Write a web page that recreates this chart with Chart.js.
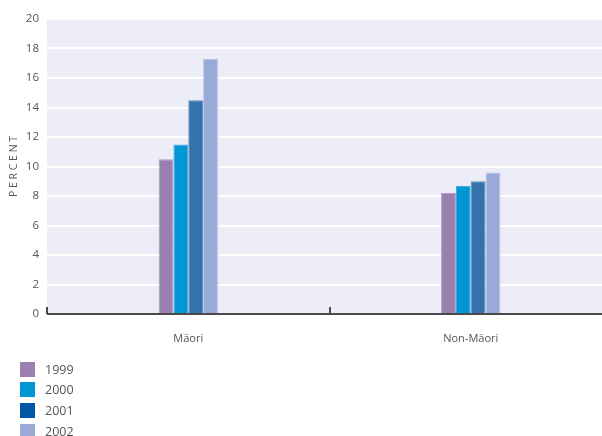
<!DOCTYPE html>
<html>
<head>
<meta charset="utf-8">
<script src="https://cdn.jsdelivr.net/npm/chart.js@4/dist/chart.umd.min.js"></script>
<style>
  html, body { margin: 0; padding: 0; background: #ffffff; overflow: hidden; }
  #wrap { position: relative; width: 612px; height: 436px; }
</style>
</head>
<body>
<div id="wrap"><canvas id="c"></canvas></div>
<script>
// Share of population (percent) by group and year
const categories = ['Māori', 'Non-Māori'];
const years = ['1999', '2000', '2001', '2002'];
const values1999 = [10.5, 8.2];
const values2000 = [11.5, 8.7];
const values2001 = [14.5, 9.0];
const values2002 = [17.3, 9.6];
const yTicks = [0, 2, 4, 6, 8, 10, 12, 14, 16, 18, 20];

const barColors = ['#9a80b0', '#0096d6', '#3473aa', '#99aad8'];
const barEdges = ['#b3a0c6', '#35abe0', '#5a8fc0', '#b4c2e4'];
const keyColors = ['#9a80b0', '#0096d6', '#0057a5', '#99aad8'];
const seriesValues = [values1999, values2000, values2001, values2002];

const FONT = "'Open Sans', 'DejaVu Sans', sans-serif";

// Lavender plot background
const plotBackground = {
  id: 'plotBackground',
  beforeDraw(chart) {
    const { ctx, chartArea: a } = chart;
    ctx.save();
    ctx.fillStyle = '#ededf7';
    ctx.fillRect(a.left, a.top, a.right - a.left, a.bottom - a.top);
    ctx.restore();
  }
};

// Baseline with small upward ticks at category boundaries
const baseAxis = {
  id: 'baseAxis',
  afterDatasetsDraw(chart) {
    const { ctx, chartArea: a, scales } = chart;
    const x = scales.x;
    const y0 = scales.y.getPixelForValue(0);
    const step = x.getPixelForValue(1) - x.getPixelForValue(0);
    ctx.save();
    ctx.strokeStyle = '#4a4a4a';
    ctx.lineWidth = 2;
    ctx.beginPath();
    ctx.moveTo(a.left, y0);
    ctx.lineTo(a.right, y0);
    ctx.stroke();
    for (let i = 0; i < categories.length; i++) {
      const bx = Math.round(x.getPixelForValue(i) - step / 2);
      ctx.beginPath();
      ctx.moveTo(bx, y0);
      ctx.lineTo(bx, y0 - 7);
      ctx.stroke();
    }
    ctx.restore();
  }
};

// Vertical key in the lower left corner
const yearKey = {
  id: 'yearKey',
  afterDraw(chart) {
    const { ctx } = chart;
    ctx.save();
    ctx.font = '12.5px ' + FONT;
    ctx.textBaseline = 'middle';
    ctx.textAlign = 'left';
    years.forEach((yr, i) => {
      const cy = 369 + i * 20.7;
      ctx.fillStyle = keyColors[i];
      ctx.fillRect(20, Math.round(cy - 7.5), 15, 15);
      ctx.fillStyle = '#555555';
      ctx.fillText(yr, 45, cy + 1);
    });
    ctx.restore();
  }
};

new Chart(document.getElementById('c'), {
  type: 'bar',
  data: {
    labels: categories,
    datasets: years.map((yr, i) => ({
      label: yr,
      data: seriesValues[i],
      backgroundColor: barColors[i],
      borderColor: barEdges[i],
      borderWidth: 1,
      barPercentage: 1,
      categoryPercentage: 0.21
    }))
  },
  options: {
    responsive: true,
    maintainAspectRatio: false,
    animation: false,
    devicePixelRatio: 1,
    layout: { padding: { top: 19, right: 0, bottom: 0, left: 0 } },
    plugins: {
      legend: { display: false },
      tooltip: { enabled: false }
    },
    scales: {
      x: {
        offset: true,
        grid: { display: false, drawTicks: false },
        border: { display: false },
        ticks: {
          color: '#555555',
          font: { family: FONT, size: 11 },
          padding: 18
        },
        afterFit(scale) { scale.height = 122; }
      },
      y: {
        min: 0,
        max: 20,
        afterBuildTicks(scale) { scale.ticks = yTicks.map(v => ({ value: v })); },
        grid: { color: '#ffffff', lineWidth: 2, drawTicks: false },
        border: { display: false },
        ticks: {
          color: '#555555',
          font: { family: FONT, size: 11.5 },
          padding: 8
        },
        title: {
          display: true,
          text: 'P E R C E N T',
          color: '#555555',
          font: { family: FONT, size: 10.5 },
          padding: { top: 8, bottom: 4 }
        },
        afterFit(scale) { scale.width = 47; }
      }
    }
  },
  plugins: [plotBackground, baseAxis, yearKey]
});
</script>
</body>
</html>
